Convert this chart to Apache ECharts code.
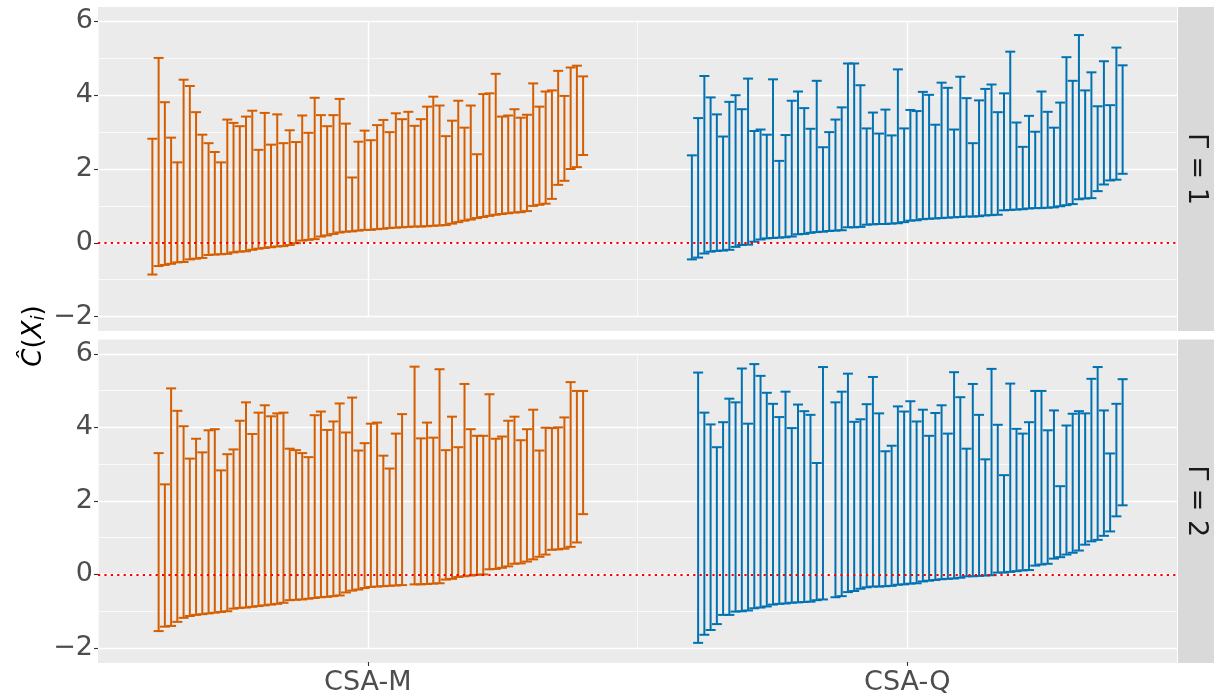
<!DOCTYPE html>
<html lang="en">
<head>
<meta charset="UTF-8">
<title>Interval estimates by method</title>
<script src="https://cdn.jsdelivr.net/npm/echarts@6/dist/echarts.min.js"></script>
<style>
    html, body { margin: 0; padding: 0; background: #fff; }
    #container { width: 1214px; height: 696px; }
</style>
</head>
<body>
<div id="container"></div>
<script>
    // categories and facet labels
    var methods = ['CSA-M', 'CSA-Q'];
    var panels = ['Γ = 1', 'Γ = 2'];
    var yTicks = [-2, 0, 2, 4, 6];

    // Γ = 1, CSA-M (70 units, sorted by lower bound)
    var m1Lower = [-0.86, -0.63, -0.60, -0.57, -0.53, -0.52, -0.45, -0.43, -0.41, -0.33,
        -0.32, -0.31, -0.30, -0.26, -0.24, -0.23, -0.19, -0.16, -0.14, -0.12,
        -0.10, -0.09, -0.06, -0.01, 0.06, 0.08, 0.10, 0.17, 0.20, 0.24,
        0.28, 0.30, 0.31, 0.33, 0.35, 0.35, 0.37, 0.38, 0.40, 0.41,
        0.42, 0.43, 0.44, 0.44, 0.45, 0.46, 0.47, 0.48, 0.52, 0.56,
        0.60, 0.63, 0.67, 0.70, 0.73, 0.76, 0.78, 0.80, 0.82, 0.83,
        0.86, 1.00, 1.03, 1.06, 1.19, 1.57, 1.68, 2.00, 2.05, 2.38];
    var m1Upper = [2.82, 5.01, 3.81, 2.85, 2.18, 4.42, 4.25, 3.54, 2.93, 2.70,
        2.46, 2.18, 3.34, 3.25, 3.16, 3.42, 3.58, 2.52, 3.52, 2.66,
        3.48, 2.70, 3.05, 2.73, 3.45, 2.98, 3.93, 3.46, 3.16, 3.46,
        3.90, 3.23, 1.77, 2.74, 3.04, 2.78, 3.19, 3.33, 3.00, 3.51,
        3.35, 3.55, 3.17, 3.35, 3.69, 3.96, 3.72, 2.89, 3.31, 3.85,
        3.12, 3.72, 2.40, 4.03, 4.05, 4.58, 3.42, 3.45, 3.62, 3.39,
        3.47, 4.32, 3.69, 4.10, 4.13, 4.66, 3.98, 4.75, 4.80, 4.51];

    // Γ = 1, CSA-Q
    var q1Lower = [-0.45, -0.40, -0.29, -0.24, -0.22, -0.21, -0.19, -0.11, -0.06, -0.05,
        0.03, 0.09, 0.12, 0.13, 0.14, 0.15, 0.17, 0.23, 0.24, 0.27,
        0.29, 0.30, 0.32, 0.33, 0.34, 0.42, 0.42, 0.43, 0.49, 0.50,
        0.51, 0.51, 0.52, 0.53, 0.56, 0.60, 0.61, 0.64, 0.65, 0.66,
        0.67, 0.68, 0.69, 0.70, 0.71, 0.71, 0.72, 0.74, 0.75, 0.76,
        0.88, 0.89, 0.90, 0.91, 0.93, 0.94, 0.94, 0.95, 0.96, 0.99,
        1.02, 1.05, 1.18, 1.20, 1.21, 1.40, 1.58, 1.69, 1.71, 1.87];
    var q1Upper = [2.37, 3.38, 4.52, 3.94, 3.48, 2.88, 3.82, 4.00, 3.62, 4.45,
        3.03, 3.07, 2.93, 4.43, 2.22, 2.92, 3.85, 4.10, 3.65, 3.09,
        4.39, 2.59, 3.00, 3.34, 3.67, 4.86, 4.86, 4.27, 3.10, 3.53,
        2.96, 3.61, 2.91, 4.70, 3.10, 3.60, 3.57, 4.09, 4.01, 3.20,
        4.34, 4.20, 3.07, 4.50, 3.92, 2.70, 3.86, 4.17, 4.29, 3.54,
        4.05, 5.18, 3.26, 2.60, 3.44, 3.01, 4.10, 3.55, 3.12, 3.80,
        5.03, 4.39, 5.63, 4.13, 4.62, 3.70, 4.92, 3.73, 5.29, 4.81];

    // Γ = 2, CSA-M (empty slots are null)
    var m2Lower = [null, -1.54, -1.42, -1.40, -1.29, -1.18, -1.13, -1.10, -1.08, -1.06,
        -1.04, -1.02, -1.00, -0.93, -0.91, -0.90, -0.88, -0.86, -0.84, -0.82,
        -0.80, -0.77, -0.70, -0.69, -0.68, -0.66, -0.64, -0.62, -0.61, -0.59,
        -0.57, -0.49, -0.44, -0.41, -0.37, -0.34, -0.33, -0.32, -0.31, -0.30,
        -0.29, null, -0.27, -0.27, -0.26, -0.25, -0.24, -0.14, -0.12, -0.07,
        -0.05, -0.03, -0.01, 0.00, 0.14, 0.15, 0.18, 0.22, 0.29, 0.30,
        0.35, 0.41, 0.48, 0.54, 0.67, 0.68, 0.70, 0.75, 0.87, 1.64];
    var m2Upper = [null, 3.30, 2.45, 5.06, 4.45, 4.03, 3.15, 3.69, 3.32, 3.92,
        3.95, 2.83, 3.27, 3.40, 4.18, 4.68, 3.82, 4.40, 4.60, 4.30,
        4.38, 4.40, 3.42, 3.38, 3.30, 3.19, 4.33, 4.43, 3.93, 4.16,
        4.65, 3.86, 4.81, 3.37, 3.57, 4.10, 4.13, 3.23, 2.88, 3.83,
        4.36, null, 5.65, 3.70, 4.13, 3.72, 5.58, 3.38, 4.29, 3.46,
        5.18, 3.95, 3.77, 3.77, 4.90, 3.69, 3.75, 4.18, 4.29, 3.65,
        3.95, 4.48, 3.37, 3.99, 3.98, 4.00, 4.27, 5.23, 4.99, 4.99];

    // Γ = 2, CSA-Q
    var q2Lower = [null, -1.86, -1.64, -1.51, -1.35, -1.10, -1.10, -1.01, -1.00, -0.98,
        -0.92, -0.90, -0.87, -0.82, -0.80, -0.79, -0.77, -0.76, -0.75, -0.74,
        -0.70, -0.68, null, -0.62, -0.59, -0.48, -0.45, -0.39, -0.35, -0.33,
        -0.33, -0.32, -0.31, -0.28, -0.27, -0.25, -0.24, -0.19, -0.17, -0.15,
        -0.13, -0.12, -0.11, -0.09, -0.05, -0.05, -0.04, -0.03, -0.02, 0.05,
        0.05, 0.07, 0.09, 0.11, 0.12, 0.24, 0.27, 0.29, 0.43, 0.47,
        0.54, 0.59, 0.65, 0.81, 0.90, 0.94, 1.05, 1.17, 1.58, 1.88];
    var q2Upper = [null, 5.49, 4.40, 4.08, 3.46, 4.14, 4.78, 4.68, 5.60, 4.10,
        5.72, 5.40, 4.94, 4.64, 4.28, 4.97, 3.98, 4.62, 4.44, 4.34,
        3.03, 5.64, null, 4.68, 4.97, 5.46, 4.15, 4.22, 4.63, 5.37,
        4.38, 3.35, 3.50, 4.57, 4.43, 4.71, 4.16, 4.48, 3.77, 4.39,
        4.60, 3.83, 5.50, 4.82, 3.42, 5.18, 4.34, 3.13, 5.59, 4.07,
        2.70, 5.19, 3.96, 3.83, 4.14, 4.99, 4.99, 3.92, 4.46, 2.40,
        4.05, 4.37, 4.44, 4.38, 5.32, 5.64, 4.46, 3.29, 4.64, 5.31];

    var colors = ['#D55E00', '#0072B2'];
    var DODGE = 0.81;   // total dodge width per category
    var CAP = 5;        // half cap width, px
    var FONT = 'DejaVu Sans';

    // dodge each unit inside its category, like position_dodge
    function dodged(catIndex, lower, upper) {
        var n = lower.length, step = DODGE / n, out = [];
        for (var i = 0; i < n; i++) {
            if (lower[i] == null || upper[i] == null) continue;
            out.push([catIndex + 1 + (i - (n - 1) / 2) * step, lower[i], upper[i]]);
        }
        return out;
    }

    function renderErrorbar(params, api) {
        var x = api.value(0);
        var lo = api.coord([x, api.value(1)]);
        var hi = api.coord([x, api.value(2)]);
        var style = {stroke: api.visual('color'), lineWidth: 2, fill: null};
        return {
            type: 'group',
            children: [
                {type: 'line', shape: {x1: lo[0], y1: lo[1], x2: hi[0], y2: hi[1]}, style: style},
                {type: 'line', shape: {x1: hi[0] - CAP, y1: hi[1], x2: hi[0] + CAP, y2: hi[1]}, style: style},
                {type: 'line', shape: {x1: lo[0] - CAP, y1: lo[1], x2: lo[0] + CAP, y2: lo[1]}, style: style}
            ]
        };
    }

    // panel geometry (grid covers y from -2 to 6, panel bg a bit larger)
    var panelLeft = 98, panelRight = 1177;
    var grids = [
        {left: panelLeft, width: panelRight - panelLeft, top: 21.4, height: 295.2},
        {left: panelLeft, width: panelRight - panelLeft, top: 353.8, height: 295.1}
    ];
    var panelBoxes = [[7, 331], [339.5, 663]];

    var xAxes = [], yAxes = [], series = [];
    grids.forEach(function (g, gi) {
        xAxes.push({
            type: 'value', gridIndex: gi, min: 0.5, max: 2.5, interval: 1,
            axisLine: {show: false}, axisTick: {show: false}, axisLabel: {show: false},
            splitLine: {show: true, lineStyle: {color: '#fff', width: 0.7}},
            minorTick: {show: false, splitNumber: 2},
            minorSplitLine: {show: true, lineStyle: {color: '#fff', width: 1.4}}
        });
        yAxes.push({
            type: 'value', gridIndex: gi, min: yTicks[0], max: yTicks[yTicks.length - 1], interval: 2,
            axisLine: {show: false},
            axisTick: {show: true, length: 4, lineStyle: {color: '#333', width: 1.1}},
            axisLabel: {
                fontSize: 27, color: '#4D4D4D', fontFamily: FONT, margin: 5,
                formatter: function (v) { return String(v).replace('-', '\u2212'); }
            },
            splitLine: {show: true, lineStyle: {color: '#fff', width: 1.4}},
            minorTick: {show: false, splitNumber: 2},
            minorSplitLine: {show: true, lineStyle: {color: '#fff', width: 0.7}}
        });
    });
    // category labels under the lower panel
    xAxes.push({
        type: 'category', gridIndex: 1, data: methods, boundaryGap: true,
        position: 'bottom', offset: 14,
        axisLine: {show: false},
        axisTick: {show: true, alignWithLabel: true, length: 4, lineStyle: {color: '#333', width: 1.1}},
        axisLabel: {fontSize: 27, color: '#4D4D4D', fontFamily: FONT, margin: 7},
        splitLine: {show: false}
    });

    var groups = [
        [[m1Lower, m1Upper], [q1Lower, q1Upper]],
        [[m2Lower, m2Upper], [q2Lower, q2Upper]]
    ];
    groups.forEach(function (pair, gi) {
        pair.forEach(function (lu, ci) {
            var s = {
                type: 'custom', name: methods[ci], xAxisIndex: gi, yAxisIndex: gi,
                renderItem: renderErrorbar, itemStyle: {color: colors[ci]},
                encode: {x: 0, y: [1, 2]},
                data: dodged(ci, lu[0], lu[1]),
                silent: true, animation: false
            };
            if (ci === 1) {
                s.markLine = {
                    silent: true, symbol: 'none', animation: false, label: {show: false},
                    lineStyle: {color: '#FF0000', type: [2.2, 4.2], width: 2.2},
                    data: [{yAxis: 0}]
                };
            }
            series.push(s);
        });
    });

    var graphics = [];
    panelBoxes.forEach(function (b, i) {
        graphics.push({
            type: 'rect', z: -100, silent: true,
            shape: {x: panelLeft, y: b[0], width: panelRight - panelLeft, height: b[1] - b[0]},
            style: {fill: '#EBEBEB'}
        });
        graphics.push({
            type: 'rect', z: -100, silent: true,
            shape: {x: panelRight + 1, y: b[0], width: 1214 - panelRight - 1, height: b[1] - b[0]},
            style: {fill: '#D9D9D9'}
        });
        graphics.push({
            type: 'text', silent: true, x: 1196, y: (b[0] + b[1]) / 2, rotation: -Math.PI / 2,
            style: {text: panels[i], fontSize: 27, fontFamily: FONT, fill: '#1A1A1A',
                align: 'center', verticalAlign: 'middle'}
        });
    });
    // y axis title: C-hat(X_i)
    graphics.push({
        type: 'text', silent: true, x: 34, y: 336, rotation: Math.PI / 2,
        style: {
            text: '{it|Ĉ}{up|(}{it|X}{sub|i}{up|)}',
            align: 'center', verticalAlign: 'middle',
            rich: {
                it: {fontSize: 26, fontStyle: 'italic', fontFamily: FONT, fill: '#000'},
                up: {fontSize: 26, fontFamily: FONT, fill: '#000'},
                sub: {fontSize: 18, fontStyle: 'italic', fontFamily: FONT, fill: '#000',
                    verticalAlign: 'bottom', padding: [10, 0, 0, 0]}
            }
        }
    });

    var dom = document.getElementById('container');
    var myChart = echarts.init(dom, null, {renderer: 'canvas'});
    myChart.setOption({
        backgroundColor: '#fff',
        animation: false,
        grid: grids,
        xAxis: xAxes,
        yAxis: yAxes,
        graphic: graphics,
        series: series
    });
</script>
</body>
</html>
